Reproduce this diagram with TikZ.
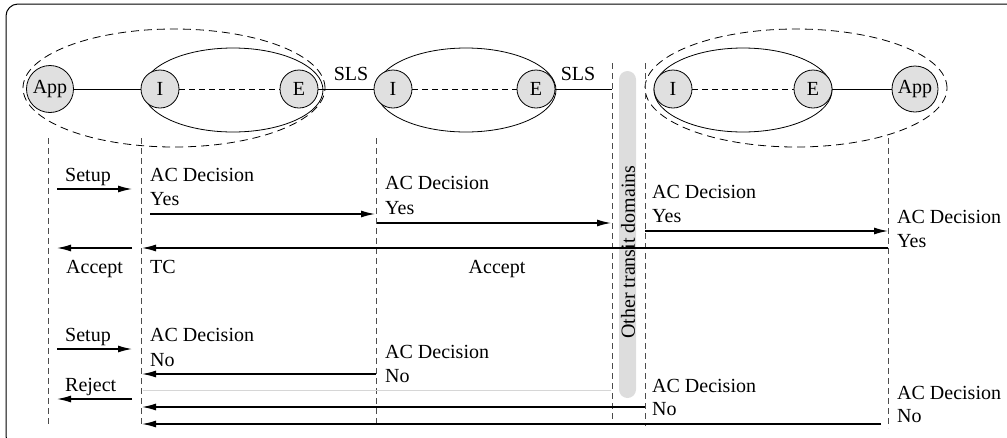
\documentclass[tikz,border=0pt]{standalone}
\usepackage{fontspec}
\setmainfont{Liberation Serif}
\usetikzlibrary{arrows.meta}
\definecolor{nodegray}{HTML}{E0E0E0}
\definecolor{bargray}{HTML}{DDDDDD}
\definecolor{faint}{HTML}{D6D6D6}

\begin{document}
\begin{tikzpicture}[x=1pt, y=-1pt, font=\fontsize{20}{24}\selectfont,
  ep/.style={circle, draw, fill=nodegray, line width=0.8pt, inner sep=0pt, minimum size=38pt},
  appnode/.style={ep, minimum size=47pt},
  link/.style={line width=0.8pt},
  tunnel/.style={line width=0.8pt, dash pattern=on 6pt off 4pt},
  domainring/.style={line width=0.8pt},
  arearing/.style={line width=0.8pt, dash pattern=on 8pt off 5pt},
  life/.style={line width=0.8pt, black!70, dash pattern=on 6pt off 4pt},
  msg/.style={line width=1.3pt, -{Latex[length=14pt,width=7pt]}},
  faintmsg/.style={line width=1pt, faint},
  lbl/.style={anchor=base west, inner sep=0pt},
]
\useasboundingbox (0,0) rectangle (1007,437);
\clip (0,0) rectangle (1007,437);

% outer frame
\draw[line width=1pt, rounded corners=12pt] (6,4) rectangle (1030,448);

% end-to-end areas and domains
\draw[arearing] (174,88) ellipse [x radius=151pt, y radius=59pt];
\draw[arearing] (796,88) ellipse [x radius=151pt, y radius=59pt];
\draw[domainring] (233,90) ellipse [x radius=90pt, y radius=42pt];
\draw[domainring] (466,90) ellipse [x radius=90pt, y radius=42pt];
\draw[domainring] (743,90) ellipse [x radius=89pt, y radius=42pt];

% endpoints and edge routers
\node[appnode] (appL) at (50,89) {App};
\node[ep] (iL) at (160,89) {I};
\node[ep] (eL) at (299,89) {E};
\node[ep] (iM) at (393,89) {I};
\node[ep] (eM) at (536,89) {E};
\node[ep] (iR) at (673,89) {I};
\node[ep] (eR) at (813,89) {E};
\node[appnode, minimum size=46pt] (appR) at (915,89) {App};
\coordinate (mEnd) at (612,89);

\draw[link] (appL) -- (iL);
\draw[tunnel] (iL) -- (eL);
\draw[link] (eL) -- (iM);
\draw[tunnel] (iM) -- (eM);
\draw[link] (eM) -- (mEnd);
\draw[tunnel] (iR) -- (eR);
\draw[link] (eR) -- (appR);

\node[anchor=base, inner sep=0pt] (sls1) at (351,80) {SLS};
\node[anchor=base, inner sep=0pt] (sls2) at (578,80) {SLS};

% lifelines
\coordinate (l1t) at (48,138);  \coordinate (l1b) at (48,425);
\coordinate (l2t) at (141,138); \coordinate (l2b) at (141,425);
\coordinate (l3t) at (376,138); \coordinate (l3b) at (376,423);
\coordinate (l4t) at (612,63);  \coordinate (l4b) at (612,423);
\coordinate (l5t) at (645,63);  \coordinate (l5b) at (645,426);
\coordinate (l6t) at (888,138); \coordinate (l6b) at (888,428);
\foreach \l in {l1,l2,l3,l4,l5,l6}
  \draw[life] (\l t) -- (\l b);

% transit domains bar
\fill[bargray, rounded corners=8.5pt] (619,71) rectangle (636,398);
\node[rotate=90, inner sep=0pt] (transit) at (628,252) {Other transit domains};

% successful setup
\coordinate (a1s) at (57,189);   \coordinate (a1e) at (132,189);
\coordinate (a2s) at (150,214);  \coordinate (a2e) at (375,214);
\coordinate (a3s) at (377,223);  \coordinate (a3e) at (611,223);
\coordinate (a4s) at (645,231);  \coordinate (a4e) at (888,231);
\coordinate (a5s) at (888,248);  \coordinate (a5e) at (142,248);
\coordinate (a6s) at (132,248);  \coordinate (a6e) at (57,248);
\draw[msg] (a1s) -- (a1e);
\draw[msg] (a2s) -- (a2e);
\draw[msg] (a3s) -- (a3e);
\draw[msg] (a4s) -- (a4e);
\draw[msg] (a5s) -- (a5e);
\draw[msg] (a6s) -- (a6e);

\node[lbl] (t1) at (65,181) {Setup};
\node[lbl] (t2) at (150,181) {AC Decision};
\node[lbl] (t3) at (150,205) {Yes};
\node[lbl] (t4) at (385,189) {AC Decision};
\node[lbl] (t5) at (385,214) {Yes};
\node[lbl] (t6) at (652,198) {AC Decision};
\node[lbl] (t7) at (652,222) {Yes};
\node[lbl] (t8) at (897,223) {AC Decision};
\node[lbl] (t9) at (897,247) {Yes};
\node[lbl] (t10) at (66,273) {Accept};
\node[lbl] (t11) at (150,273) {TC};
\node[anchor=base, inner sep=0pt] (t12) at (497,273) {Accept};

% rejected setup
\coordinate (b1s) at (57,349);   \coordinate (b1e) at (132,349);
\coordinate (b2s) at (376,374);  \coordinate (b2e) at (142,374);
\coordinate (b3s) at (143,390);  \coordinate (b3e) at (611,390);
\coordinate (b4s) at (132,399);  \coordinate (b4e) at (57,399);
\coordinate (b5s) at (645,407);  \coordinate (b5e) at (142,407);
\coordinate (b6s) at (881,424);  \coordinate (b6e) at (142,424);
\draw[msg] (b1s) -- (b1e);
\draw[msg] (b2s) -- (b2e);
\draw[faintmsg] (b3s) -- (b3e);
\draw[msg] (b4s) -- (b4e);
\draw[msg] (b5s) -- (b5e);
\draw[msg] (b6s) -- (b6e);

\node[lbl] (u1) at (65,341) {Setup};
\node[lbl] (u2) at (150,341) {AC Decision};
\node[lbl] (u3) at (150,366) {No};
\node[lbl] (u4) at (385,358) {AC Decision};
\node[lbl] (u5) at (385,382) {No};
\node[lbl] (u6) at (65,391) {Reject};
\node[lbl] (u7) at (652,392) {AC Decision};
\node[lbl] (u8) at (652,415) {No};
\node[lbl] (u9) at (897,399) {AC Decision};
\node[lbl] (u10) at (897,422) {No};
\end{tikzpicture}
\end{document}
